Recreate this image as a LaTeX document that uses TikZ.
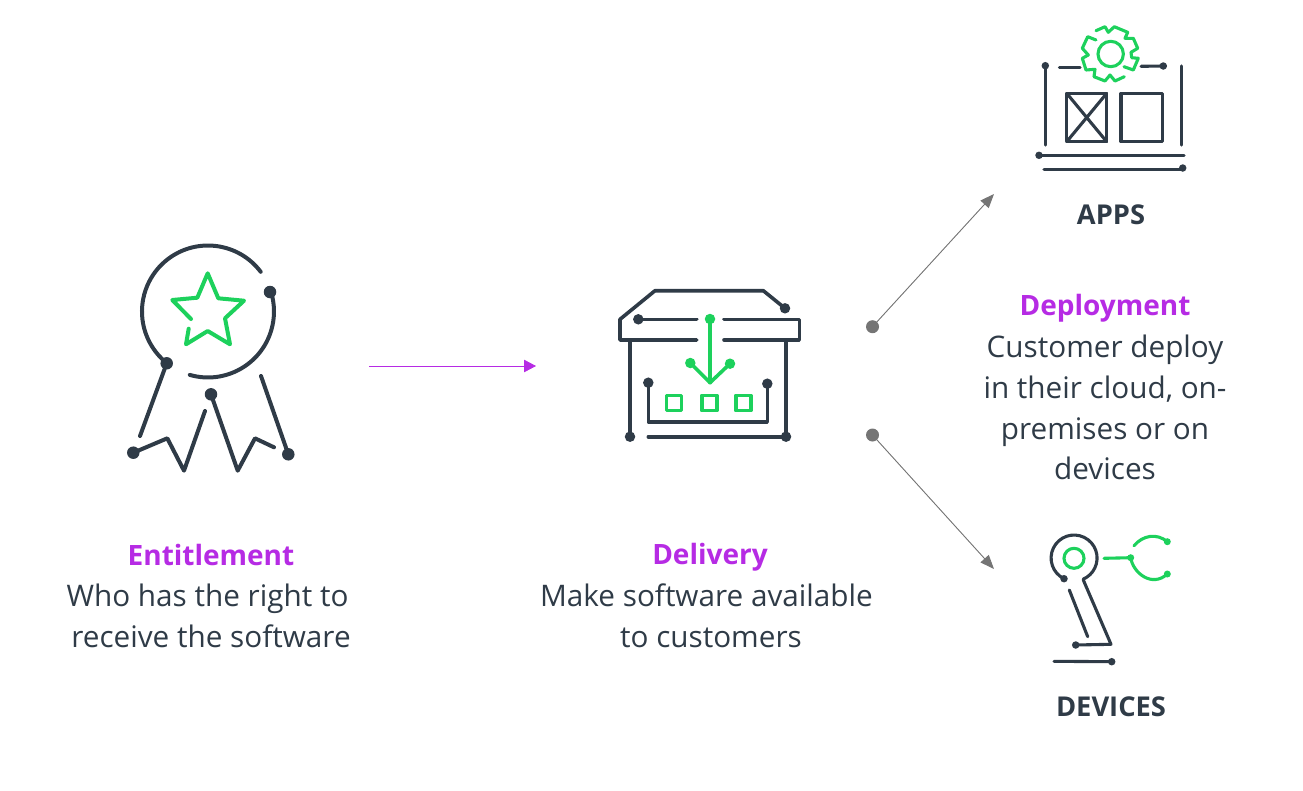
\documentclass[tikz,border=0pt]{standalone}
\usepackage{fontspec}
\setmainfont{Open Sans}
\usetikzlibrary{arrows.meta}
\definecolor{slate}{HTML}{2F3B47}
\definecolor{leaf}{HTML}{1DD15C}
\definecolor{violet}{HTML}{B62BE4}
\definecolor{pin}{HTML}{757575}
\tikzstyle{line} = [draw=slate, line width=3.1pt, line cap=round, line join=round]
\tikzstyle{gline} = [draw=leaf, line width=3.1pt, line cap=round, line join=round]
\tikzstyle{heavy} = [line width=4pt]
\tikzstyle{medium} = [line width=3.6pt]
\tikzstyle{bigdot} = [circle, fill=slate, inner sep=0pt, minimum size=12.5pt]
\tikzstyle{dot} = [circle, fill=slate, inner sep=0pt, minimum size=10.5pt]
\tikzstyle{smalldot} = [circle, fill=slate, inner sep=0pt, minimum size=7.5pt]
\tikzstyle{gdot} = [circle, fill=leaf, inner sep=0pt, minimum size=10.5pt]
\tikzstyle{gsmall} = [circle, fill=leaf, inner sep=0pt, minimum size=7pt]
\tikzstyle{pindot} = [circle, fill=pin, inner sep=0pt, minimum size=13pt]
\tikzstyle{body} = [text=slate, align=center, font=\fontsize{29.7}{40.8}\selectfont, inner sep=0pt]
\tikzstyle{head} = [text=violet, font=\fontsize{28}{40}\selectfont\bfseries, inner sep=0pt]
\tikzstyle{title} = [text=slate, font=\fontsize{27.3}{40}\selectfont\bfseries, inner sep=0pt]
\tikzstyle{vioarrow} = [-{Triangle[length=12pt,width=12.5pt]}, draw=violet, fill=violet, line width=0.8pt]
\tikzstyle{pinarrow} = [-{Triangle[length=14pt,width=11pt]}, draw=pin, fill=pin, line width=0.9pt]
\begin{document}
\begin{tikzpicture}[x=1pt,y=-1pt]
  \useasboundingbox (0,0) rectangle (1303,790);
  % medal
  \draw [line, heavy] (260.7,271.8) arc [start angle=-37, end angle=-231.5, radius=66];
  \draw [line, heavy] (189.8,374.9) arc [start angle=-254, end angle=-376, radius=66];
  \draw [gline, heavy] (188.7,328.7) -- (186,344.3) -- (207.7,331) -- (230,344.3) -- (225,318.3) -- (244,300.7) -- (218.3,298.3) -- (207.7,273.3) -- (197.3,297.7) -- (172.3,300) -- (191,319);
  \node (medalA) [bigdot] at (166.7,363.3) {};
  \node (medalB) [bigdot] at (270,292) {};
  \node (medalC) [bigdot] at (133.3,452.7) {};
  \node (medalD) [bigdot] at (211,394.3) {};
  \node (medalE) [bigdot] at (288.3,454.3) {};
  \draw [line, heavy] (medalA) -- (140,436);
  \draw [line, heavy] (medalC.center) -- (167.3,438.3) -- (184,470.7) -- (205,411);
  \draw [line, heavy] (medalD.center) -- (237.7,470.7) -- (255,438.3) -- (274,447.3);
  \draw [line, heavy] (261,376) -- (medalE.center);
  % box
  \node (boxA) [dot] at (785,308.3) {};
  \node (boxB) [dot] at (638.3,319.3) {};
  \node (boxC) [dot] at (630,436.7) {};
  \node (boxD) [dot] at (786,436.7) {};
  \node (boxE) [dot] at (648.3,382.7) {};
  \node (boxF) [dot] at (767.3,383.7) {};
  \draw [line, medium] (boxA.center) -- (763.3,290.7) -- (655,290.7) -- (620,319.3) -- (620,340) -- (696.7,340);
  \draw [line, medium] (boxB.center) -- (696.7,319.3);
  \draw [line, medium] (724,319.3) -- (799.3,319.3) -- (799.3,340) -- (724,340);
  \draw [line, medium] (630,340) -- (boxC.center);
  \draw [line, medium] (786,340) -- (boxD.center) -- (648.3,436.7);
  \draw [line, medium] (boxE.center) -- (648.3,422) -- (767.3,422) -- (boxF.center);
  \node (boxG) [gdot] at (710,319) {};
  \node (boxH) [gdot] at (690.3,363) {};
  \node (boxI) [gdot] at (730,363.7) {};
  \draw [gline, medium] (boxG.center) -- (710,382.7);
  \draw [gline, medium] (boxH.center) -- (710,382.7) -- (boxI.center);
  \foreach \px in {674,709.3,743.3}
    \draw [gline, medium] (\px-7.5,395.5) rectangle (\px+7.5,410.5);
  % apps
  \node (appA) [smalldot] at (1045.3,65.7) {};
  \node (appB) [smalldot] at (1163.3,66) {};
  \node (appC) [smalldot] at (1039,155.3) {};
  \node (appD) [smalldot] at (1182.7,168) {};
  \draw [line] (appA.center) -- (1045.3,145);
  \draw [line] (1059.3,67.3) -- (1080,67.3);
  \draw [line] (1141,66.3) -- (appB.center);
  \draw [line] (1181.3,66) -- (1181.3,145);
  \draw [line] (1066.7,93.3) rectangle (1106.7,141.7);
  \draw [line] (1066.7,93.3) -- (1106.7,141.7) (1106.7,93.3) -- (1066.7,141.7);
  \draw [line] (1121,93.3) rectangle (1162.3,141.7);
  \draw [line] (appC.center) -- (1184,155.3);
  \draw [line] (1044,169.3) -- (1182.7,169.3) -- (appD.center);
  \draw [gline] (1110.7,54) circle [radius=12.7];
  \draw [gline] (1096,30.7) -- (1105,26.7) -- (1108.3,32.3) -- (1114.3,26.7) -- (1127.7,32.3) -- (1125,38.3) -- (1133.3,38.3) -- (1137.7,48.3) -- (1131,52.3) -- (1131.7,57.7) -- (1138.3,58.3) -- (1133.3,70) -- (1124,66.7);
  \draw [gline] (1124.3,76.7) -- (1115,81) -- (1110,75) -- (1105,81) -- (1094,76.7) -- (1095,69.3) -- (1086,70) -- (1082.3,58.3) -- (1088.3,55) -- (1082.3,48.3) -- (1087.7,36.7) -- (1096,40);
  % devices
  \node (devA) [smalldot] at (1064,578.7) {};
  \node (devB) [smalldot] at (1075.7,645) {};
  \node (devC) [smalldot] at (1111.7,661.7) {};
  \node (devD) [gsmall] at (1130.7,557.7) {};
  \node (devE) [gsmall] at (1167.3,541.7) {};
  \node (devF) [gsmall] at (1167.3,574) {};
  \draw [line] (devA.center) arc [start angle=116, end angle=426.8, radius=23];
  \draw [line] (1083.3,580) -- (1111,644.3) -- (devB.center);
  \draw [line] (1069.3,590) -- (1087.7,636.7);
  \draw [line] (1054,661.3) -- (devC.center);
  \draw [gline] (1074,558.3) circle [radius=10];
  \draw [gline] (1104,558.3) -- (devD.center);
  \draw [gline] (1134,545.7) .. controls (1143,535) and (1157,533) .. (devE.center);
  \draw [gline] (devD.center) .. controls (1133,573) and (1152,588) .. (devF.center);
  % arrows
  \coordinate (from) at (369,366);
  \coordinate (to) at (536,366);
  \draw [vioarrow] (from) -- (to);
  \node (pinA) [pindot] at (872.5,326.7) {};
  \node (pinB) [pindot] at (872.5,435) {};
  \coordinate (appsEnd) at (994,194);
  \coordinate (devEnd) at (994,569);
  \draw [pinarrow] (pinA.center) -- (appsEnd);
  \draw [pinarrow] (pinB.center) -- (devEnd);
  % labels
  \node (apps) [title] at (1111,215) {APPS};
  \node (devices) [title] at (1111,707) {DEVICES};
  \node (entHead) [head] at (211,555) {Entitlement};
  \node (entText) [body] at (207.5,616) {Who has the right to\\\hspace*{7pt}receive the software};
  \node (delHead) [head] at (710,557) {Delivery};
  \node (delText) [body] at (706.5,616) {Make software available\\\hspace*{9pt}to customers};
  \node (depHead) [head] at (1105,308) {Deployment};
  \node (depText) [body] at (1105,407.5) {Customer deploy\\in their cloud, on-\\premises or on\\devices};
\end{tikzpicture}
\end{document}
